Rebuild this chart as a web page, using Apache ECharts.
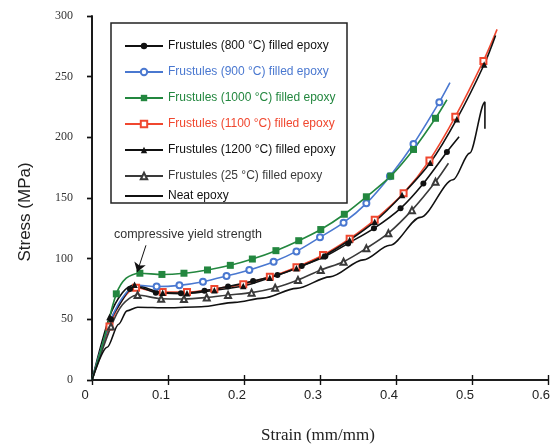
<!DOCTYPE html>
<html>
<head>
<meta charset="utf-8">
<script src="https://cdn.jsdelivr.net/npm/echarts@6/dist/echarts.min.js"></script>
<style>
  html, body { margin: 0; padding: 0; background: #fff; }
  #chart { width: 555px; height: 448px; }
</style>
</head>
<body>
<div id="chart"></div>
<script>
// Compressive stress–strain curves of frustule-filled epoxy and neat epoxy.
// Each curve is a list of [strain (mm/mm), stress (MPa)] knots.

const xTicks = [0, 0.1, 0.2, 0.3, 0.4, 0.5, 0.6];
const yTicks = [0, 50, 100, 150, 200, 250, 300];

const names = [
  'Frustules (800 °C) filled epoxy',
  'Frustules (900 °C) filled epoxy',
  'Frustules (1000 °C) filled epoxy',
  'Frustules (1100 °C) filled epoxy',
  'Frustules (1200 °C) filled epoxy',
  'Frustules (25 °C) filled epoxy',
  'Neat epoxy'
];

const curve800 = [[0,0],[0.025,50],[0.038,64],[0.05,75],[0.058,77],[0.07,75],[0.084,72],[0.117,71.4],[0.148,73.6],
  [0.179,77],[0.212,81.5],[0.244,86.5],[0.276,94],[0.307,102],[0.337,112.6],[0.371,125],[0.406,141.5],
  [0.436,162],[0.467,188],[0.483,200.5]];
const curve900 = [[0,0],[0.025,50],[0.045,72],[0.062,78],[0.085,77],[0.115,78],[0.146,81],[0.177,85.7],
  [0.207,90.7],[0.239,97.5],[0.269,106],[0.30,117.6],[0.331,129.7],[0.361,145.6],[0.392,168],[0.423,194.5],
  [0.457,229],[0.471,245]];
const curve1000 = [[0,0],[0.015,32],[0.032,71],[0.045,84],[0.063,88],[0.092,87],[0.121,88],[0.152,90.7],
  [0.182,94.5],[0.211,99.7],[0.242,106.6],[0.272,114.8],[0.301,124],[0.332,136.6],[0.361,151],[0.393,168],
  [0.423,190],[0.452,215.7],[0.467,231]];
const curve1100 = [[0,0],[0.023,44],[0.04,66],[0.058,76],[0.075,74],[0.093,72.5],[0.125,72.5],[0.161,75],
  [0.199,79],[0.234,85],[0.269,93],[0.304,103],[0.339,116.5],[0.372,132],[0.41,154],[0.444,181],[0.478,217],
  [0.515,263],[0.533,289]];
const curve1200 = [[0,0],[0.023,52],[0.04,72],[0.056,78.5],[0.075,75],[0.093,72],[0.125,71.4],[0.161,74],
  [0.199,77.5],[0.234,84.3],[0.269,92],[0.304,102],[0.339,115.4],[0.372,130.5],[0.408,152.5],[0.445,179],
  [0.48,215],[0.516,260],[0.531,284]];
const curve25 = [[0,0],[0.025,44],[0.04,62],[0.06,70],[0.091,67],[0.121,66.8],[0.151,68],[0.179,70],[0.21,72],
  [0.241,76],[0.271,82.4],[0.301,90.7],[0.331,97.5],[0.361,108.5],[0.39,121],[0.421,140],[0.452,163.4],
  [0.469,178.6]];
const curveNeat = [[0,0],[0.02,27],[0.035,46],[0.046,57],[0.06,60],[0.1,59.5],[0.144,60.4],[0.188,64],
  [0.225,67.5],[0.269,75.5],[0.313,85],[0.357,99],[0.392,111],[0.432,134],[0.475,165],[0.497,187],
  [0.517,229],[0.517,207]];

// knots that carry no marker (indices into the curve arrays)
const bare800 = [0, 2, 4, 5, 19];
const bare900 = [0, 1, 2, 3, 17];
const bare1000 = [0, 1, 3, 18];
const bare1100 = [0, 2, 4, 18];
const bare1200 = [0, 2, 4, 18];
const bare25 = [0, 2, 17];

// arrow for the "compressive yield strength" note: tail and tip in data units
const yieldArrow = [[0.071, 111], [0.0595, 89]];

const chart = echarts.init(document.getElementById('chart'), null, { renderer: 'canvas' });

function curveSeries(name, data, color, symbol, size, bare, extra) {
  return Object.assign({
    name: name,
    type: 'line',
    data: data,
    smooth: 0.3,
    showSymbol: true,
    symbol: symbol,
    symbolSize: (v, p) => (bare.indexOf(p.dataIndex) >= 0 ? 0 : size),
    color: color,
    lineStyle: { color: color, width: 1.6 },
    itemStyle: { color: color, borderWidth: 1.1 },
    emphasis: { disabled: true },
    z: 3
  }, extra || {});
}

const blue = '#4a78d0', green = '#23873f', red = '#f0472f', black = '#111', grey = '#3a3a3a';

const series = [
  curveSeries(names[3], curve1100, red, 'emptyRect', 6, bare1100),
  curveSeries(names[5], curve25, grey, 'emptyTriangle', 6, bare25),
  curveSeries(names[0], curve800, black, 'circle', 6, bare800),
  curveSeries(names[4], curve1200, black, 'triangle', 6.5, bare1200),
  curveSeries(names[1], curve900, blue, 'emptyCircle', 6, bare900),
  curveSeries(names[2], curve1000, green, 'rect', 7, bare1000, {
    markLine: {
      silent: true,
      symbol: ['none', 'arrow'],
      symbolSize: 9,
      label: { show: false },
      lineStyle: { color: '#111', width: 1, type: 'solid' },
      data: [[{ coord: yieldArrow[0] }, { coord: yieldArrow[1] }]]
    }
  }),
  {
    name: names[6],
    type: 'line',
    data: curveNeat,
    smooth: 0.3,
    smoothMonotone: 'x',
    showSymbol: false,
    symbol: 'circle',
    color: black,
    lineStyle: { color: black, width: 1.6 },
    itemStyle: { color: black, opacity: 0 },
    emphasis: { disabled: true },
    z: 3
  }
];

const legendColors = [black, blue, green, red, black, grey];

chart.setOption({
  animation: false,
  backgroundColor: '#fff',
  grid: { left: 92, right: 7, top: 16, bottom: 68 },
  xAxis: [
    {
      type: 'value',
      min: xTicks[0], max: xTicks[xTicks.length - 1], interval: xTicks[1] - xTicks[0],
      axisLine: { show: true, lineStyle: { color: '#111', width: 1.6 } },
      axisTick: { show: true, inside: true, length: 5, lineStyle: { color: '#111', width: 1.4 } },
      axisLabel: { margin: 9, fontSize: 13, color: '#222', fontFamily: 'Liberation Sans, Arial, sans-serif', padding: [0, 14, 0, 0] },
      splitLine: { show: false }
    },
    {
      type: 'value', position: 'top',
      min: xTicks[0], max: xTicks[xTicks.length - 1], interval: xTicks[1] - xTicks[0],
      axisLine: { show: true, lineStyle: { color: '#111', width: 1.6 } },
      axisTick: { show: true, inside: true, length: 5, lineStyle: { color: '#111', width: 1.4 } },
      axisLabel: { show: false },
      splitLine: { show: false }
    }
  ],
  yAxis: [
    {
      type: 'value',
      min: yTicks[0], max: yTicks[yTicks.length - 1], interval: yTicks[1] - yTicks[0],
      axisLine: { show: true, lineStyle: { color: '#111', width: 1.6 } },
      axisTick: { show: true, inside: false, length: 5, lineStyle: { color: '#111', width: 1.4 } },
      axisLabel: { margin: 19, fontSize: 12, color: '#333', fontFamily: 'Liberation Serif, Georgia, serif' },
      splitLine: { show: false }
    },
    {
      type: 'value', position: 'right',
      min: yTicks[0], max: yTicks[yTicks.length - 1], interval: yTicks[1] - yTicks[0],
      axisLine: { show: true, lineStyle: { color: '#111', width: 1.6 } },
      axisTick: { show: true, inside: true, length: 5, lineStyle: { color: '#111', width: 1.4 } },
      axisLabel: { show: false },
      splitLine: { show: false }
    }
  ],
  legend: [
    {
      orient: 'vertical',
      left: 119, top: 35,
      itemWidth: 38, itemHeight: 8, itemGap: 14,
      selectedMode: false,
      textStyle: { fontSize: 12, fontFamily: 'Liberation Sans, Arial, sans-serif', color: '#111' },
      data: names.slice(0, 6).map((n, i) => ({ name: n, textStyle: { color: legendColors[i] } }))
    },
    {
      orient: 'vertical',
      left: 119, top: 185,
      itemWidth: 38, itemHeight: 8,
      selectedMode: false,
      textStyle: { fontSize: 12, fontFamily: 'Liberation Sans, Arial, sans-serif', color: '#111' },
      data: [names[6]]
    }
  ],
  graphic: [
    {
      type: 'rect', z: 1,
      shape: { x: 111, y: 23, width: 236, height: 180 },
      style: { fill: 'none', stroke: '#222', lineWidth: 1.5 }
    },
    {
      type: 'text', x: 25, y: 212, rotation: Math.PI / 2,
      style: { text: 'Stress (MPa)', fill: '#222', font: '17px "Liberation Sans", Arial, sans-serif', align: 'center', verticalAlign: 'middle' }
    },
    {
      type: 'text', x: 318, y: 436,
      style: { text: 'Strain (mm/mm)', fill: '#222', font: '17px "Liberation Serif", "Times New Roman", serif', align: 'center', verticalAlign: 'middle' }
    },
    {
      type: 'text', x: 114, y: 235,
      style: { text: 'compressive yield strength', fill: '#333', font: '12.5px "Liberation Sans", Arial, sans-serif', align: 'left', verticalAlign: 'middle' }
    }
  ],
  series: series
});
</script>
</body>
</html>
